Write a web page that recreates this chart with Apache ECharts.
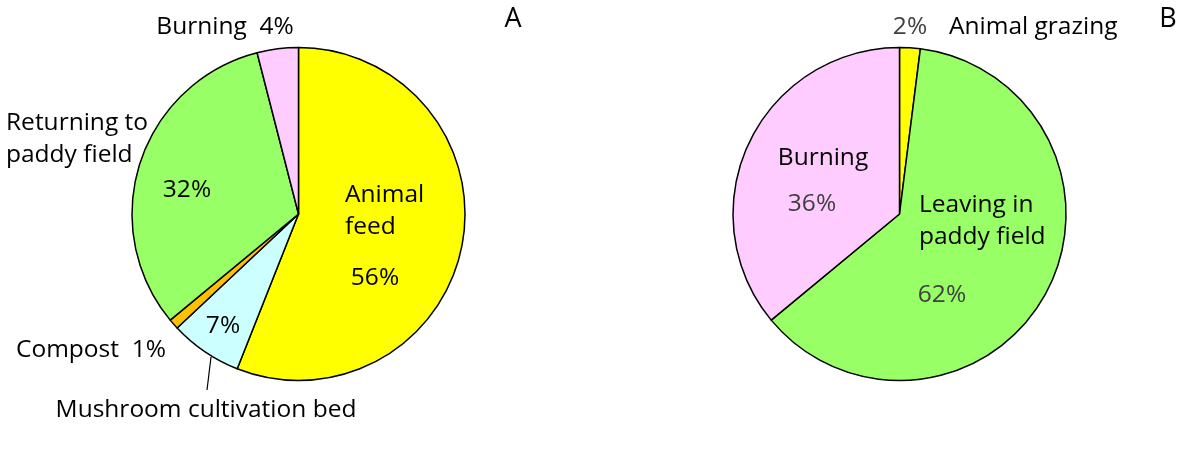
<!DOCTYPE html>
<html><head><meta charset="utf-8">
<script src="https://cdn.jsdelivr.net/npm/echarts@6/dist/echarts.min.js"></script>
<style>html,body{margin:0;padding:0;background:#fff}#c{width:1188px;height:450px}</style>
</head><body><div id="c"></div>
<script>
// Pie A: rice straw use
const catsA = ['Animal feed', 'Mushroom cultivation bed', 'Compost', 'Returning to paddy field', 'Burning'];
const valsA = [56, 7, 1, 32, 4];
const colorsA = ['#FFFF00', '#CCFFFF', '#FFC000', '#99FF66', '#FFCCFF'];
// Pie B
const catsB = ['Animal grazing', 'Leaving in paddy field', 'Burning'];
const valsB = [2, 62, 36];
const colorsB = ['#FFFF00', '#99FF66', '#FFCCFF'];
const panelTitles = ['A', 'B'];

const FONT = '"Open Sans"';
const FS = 24.5;
const pct = v => v + '%';

function pieData(cats, vals, cols) {
  return cats.map((n, i) => ({ name: n, value: vals[i], itemStyle: { color: cols[i] } }));
}
function txt(x, y, text, opts) {
  opts = opts || {};
  return {
    type: 'text', x: x, y: y, z: 10,
    style: {
      text: text, fill: opts.fill || '#000', font: (opts.fs || FS) + 'px ' + FONT,
      align: opts.align || 'center', verticalAlign: 'middle', lineHeight: opts.lh || 32
    }
  };
}

const chart = echarts.init(document.getElementById('c'), null, { renderer: 'canvas' });
const grey = '#404040';
chart.setOption({
  animation: false,
  backgroundColor: '#fff',
  series: [
    {
      type: 'pie', center: [298.5, 214], radius: 166.5, startAngle: 90, clockwise: true,
      label: { show: false }, labelLine: { show: false }, silent: true,
      itemStyle: { borderColor: '#000', borderWidth: 1.5 },
      data: pieData(catsA, valsA, colorsA)
    },
    {
      type: 'pie', center: [899.5, 214], radius: 166.5, startAngle: 90, clockwise: true,
      label: { show: false }, labelLine: { show: false }, silent: true,
      itemStyle: { borderColor: '#000', borderWidth: 1.5 },
      data: pieData(catsB, valsB, colorsB)
    }
  ],
  graphic: [
    txt(513, 19, panelTitles[0], { fs: 27 }),
    txt(1168, 19, panelTitles[1], { fs: 27 }),
    // Pie A labels
    txt(225, 27, catsA[4] + '  ' + pct(valsA[4])),
    txt(6, 139, 'Returning to\npaddy field', { align: 'left' }),
    txt(187, 190, pct(valsA[3])),
    txt(345, 211, 'Animal\nfeed', { align: 'left' }),
    txt(375, 278, pct(valsA[0])),
    txt(223, 326, pct(valsA[1])),
    txt(16, 350, catsA[2] + '  ' + pct(valsA[2]), { align: 'left' }),
    { type: 'line', shape: { x1: 211, y1: 357, x2: 207, y2: 390 }, style: { stroke: '#000', lineWidth: 1.2 }, z: 10 },
    txt(206, 410, catsA[1]),
    // Pie B labels
    txt(910, 27, pct(valsB[0]), { fill: grey }),
    txt(949, 27, catsB[0], { align: 'left' }),
    txt(823, 158, catsB[2]),
    txt(812, 204, pct(valsB[2]), { fill: grey }),
    txt(919, 221, 'Leaving in\npaddy field', { align: 'left' }),
    txt(942, 295, pct(valsB[1]), { fill: grey })
  ]
});
</script></body></html>
